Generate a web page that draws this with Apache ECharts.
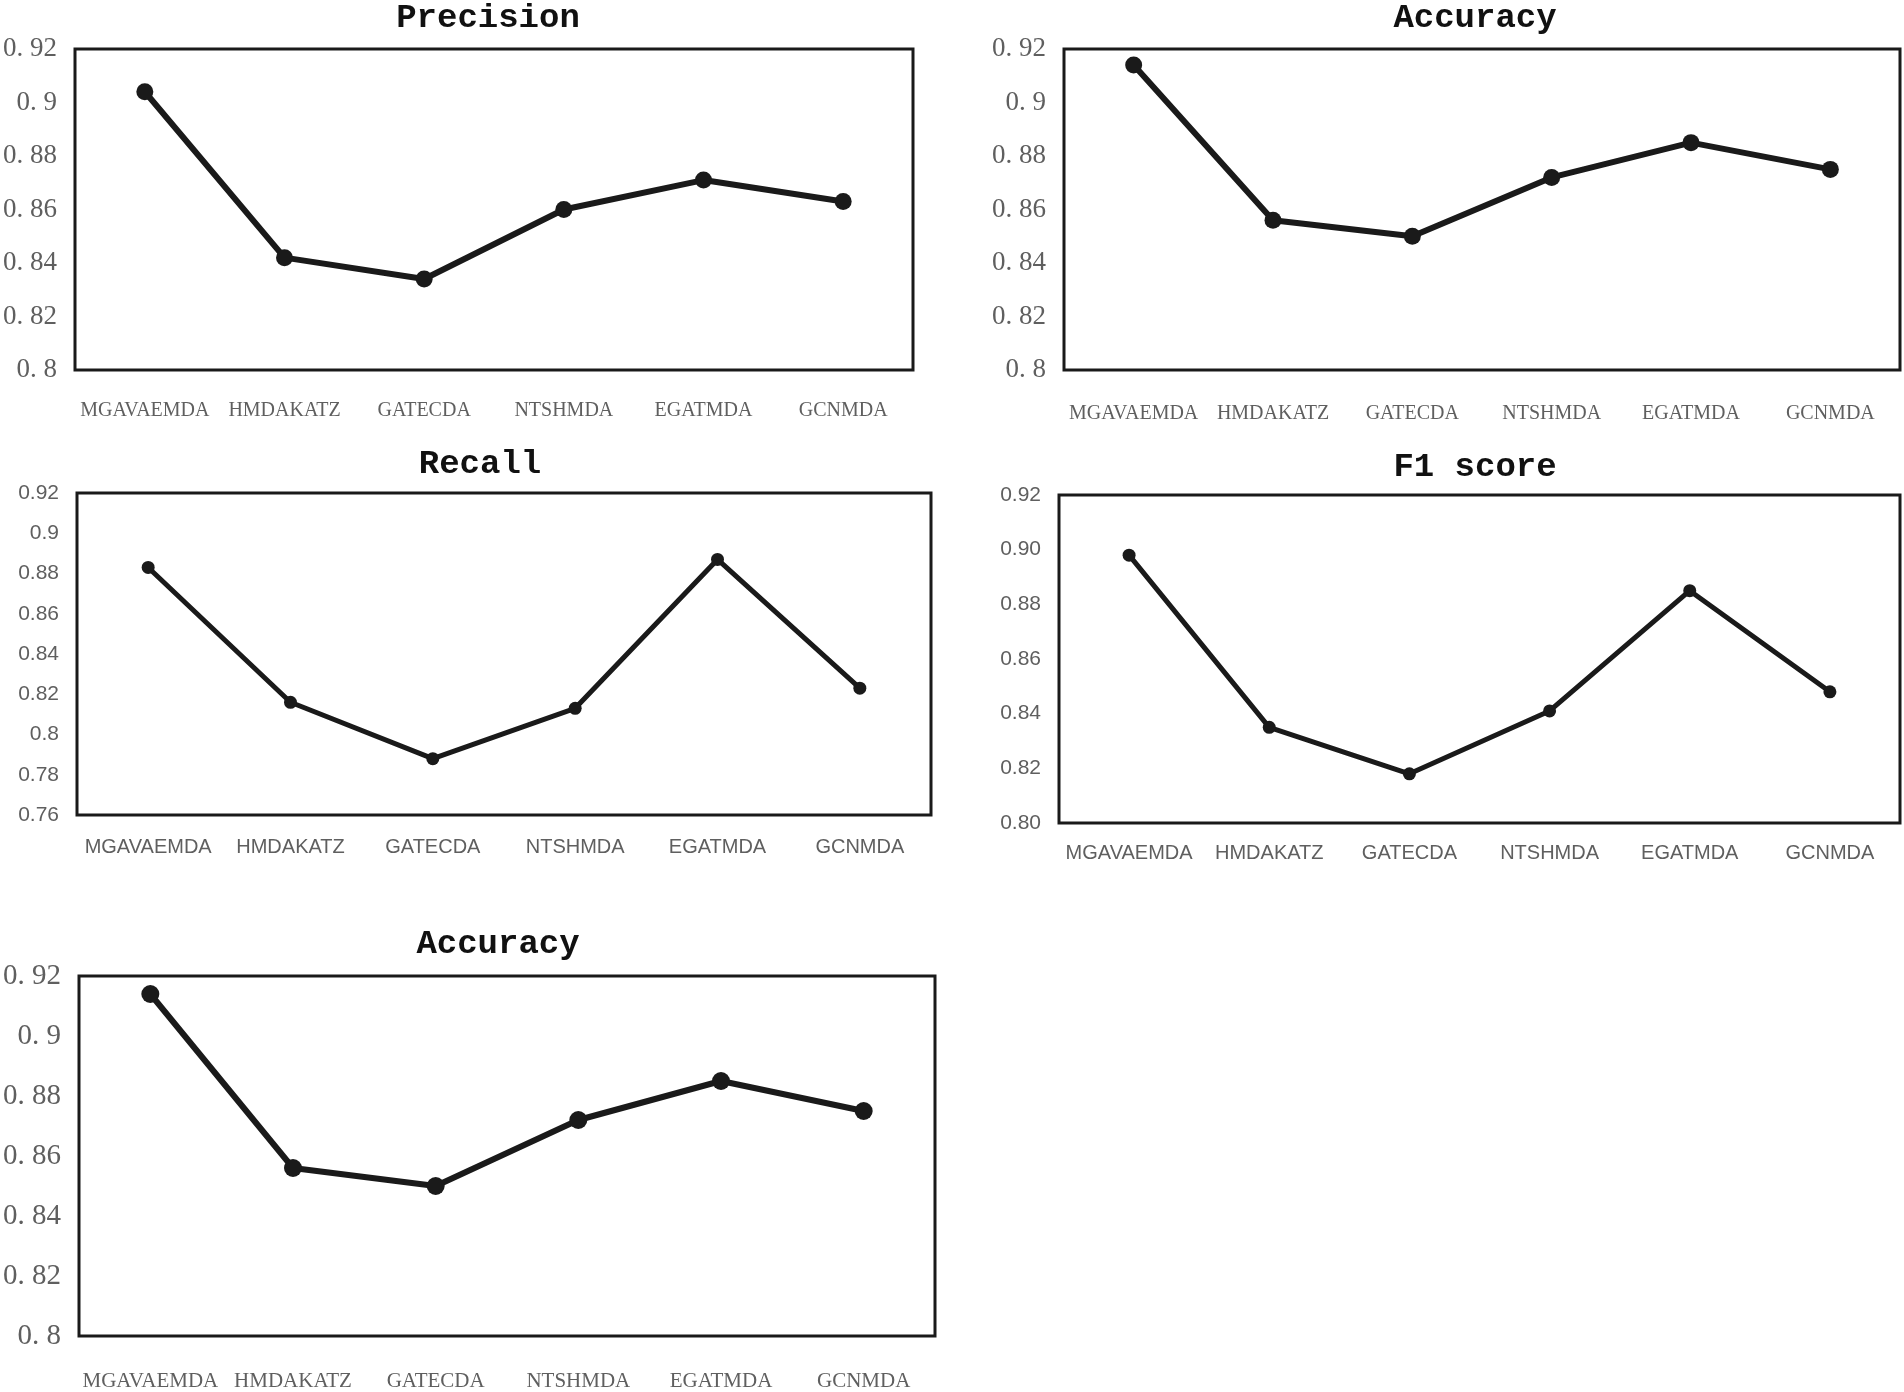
<!DOCTYPE html>
<html>
<head>
<meta charset="utf-8">
<title>Precision / Accuracy / Recall / F1 score</title>
<script src="https://cdn.jsdelivr.net/npm/echarts@6/dist/echarts.min.js"></script>
<style>
html, body { margin: 0; padding: 0; background: #fff; }
#main { width: 1904px; height: 1392px; }
</style>
</head>
<body>
<div id="main"></div>
<script>
// 数据
var methods = ['MGAVAEMDA', 'HMDAKATZ', 'GATECDA', 'NTSHMDA', 'EGATMDA', 'GCNMDA'];
var precision = [0.904, 0.842, 0.834, 0.860, 0.871, 0.863];
var accuracy = [0.914, 0.856, 0.850, 0.872, 0.885, 0.875];
var recall = [0.883, 0.816, 0.788, 0.813, 0.887, 0.823];
var f1Score = [0.898, 0.835, 0.818, 0.841, 0.885, 0.848];

// 纵轴刻度
var yTicksMain = [0.8, 0.82, 0.84, 0.86, 0.88, 0.9, 0.92];
var yTicksRecall = [0.76, 0.78, 0.8, 0.82, 0.84, 0.86, 0.88, 0.9, 0.92];

var serif = "'Liberation Serif', 'DejaVu Serif', serif";
var sans = "'Liberation Sans', 'Noto Sans', sans-serif";
var titleFont = "'Liberation Mono', 'DejaVu Sans Mono', monospace";

function serifLabel(v) { return String(+v.toFixed(2)).replace('.', '. '); }
function plainLabel(v) { return String(+v.toFixed(2)); }
function fixedLabel(v) { return v.toFixed(2); }

var panels = [
  { name: 'Precision', data: precision, ticks: yTicksMain, fmt: serifLabel, font: serif, ySize: 27, xSize: 20, xMargin: 31,
    grid: { left: 75, top: 49, width: 838, height: 321 }, title: [488, 18], lw: 6, sym: 17 },
  { name: 'Accuracy', data: accuracy, ticks: yTicksMain, fmt: serifLabel, font: serif, ySize: 27, xSize: 20, xMargin: 34,
    grid: { left: 1064, top: 49, width: 836, height: 321 }, title: [1475, 18], lw: 6, sym: 17 },
  { name: 'Recall', data: recall, ticks: yTicksRecall, fmt: plainLabel, font: sans, ySize: 21, xSize: 20, xMargin: 22,
    grid: { left: 77, top: 493, width: 854, height: 322 }, title: [480, 464], lw: 5, sym: 13 },
  { name: 'F1 score', data: f1Score, ticks: yTicksMain, fmt: fixedLabel, font: sans, ySize: 21, xSize: 20, xMargin: 20,
    grid: { left: 1059, top: 495, width: 841, height: 328 }, title: [1475, 467], lw: 5, sym: 13 },
  { name: 'Accuracy', data: accuracy, ticks: yTicksMain, fmt: serifLabel, font: serif, ySize: 29, xSize: 21, xMargin: 35,
    grid: { left: 78, top: 976, width: 857, height: 360 }, title: [498, 944], lw: 6, sym: 18 }
];

var grids = [], xAxes = [], yAxes = [], series = [], texts = [];
for (var i = 0; i < panels.length; i++) {
  var p = panels[i];
  grids.push({
    left: p.grid.left, top: p.grid.top, width: p.grid.width, height: p.grid.height,
    show: true, borderColor: '#1a1a1a', borderWidth: 3, backgroundColor: 'transparent'
  });
  xAxes.push({
    type: 'category', gridIndex: i, data: methods, boundaryGap: true,
    axisLine: { show: false }, axisTick: { show: false }, splitLine: { show: false },
    axisLabel: { color: '#5f5f5f', fontFamily: p.font, fontSize: p.xSize, margin: p.xMargin, interval: 0 }
  });
  yAxes.push({
    type: 'value', gridIndex: i,
    min: p.ticks[0], max: p.ticks[p.ticks.length - 1], interval: 0.02,
    axisLine: { show: false }, axisTick: { show: false }, splitLine: { show: false },
    axisLabel: { color: '#5f5f5f', fontFamily: p.font, fontSize: p.ySize, margin: 18, formatter: p.fmt }
  });
  series.push({
    name: p.name, type: 'line', xAxisIndex: i, yAxisIndex: i, data: p.data,
    symbol: 'circle', symbolSize: p.sym,
    lineStyle: { color: '#1a1a1a', width: p.lw },
    itemStyle: { color: '#1a1a1a' },
    emphasis: { disabled: true }
  });
  texts.push({
    type: 'text', x: p.title[0], y: p.title[1],
    style: {
      text: p.name, fill: '#111', font: 'bold 34px ' + titleFont,
      align: 'center', verticalAlign: 'middle', textAlign: 'center', textVerticalAlign: 'middle'
    }
  });
}

var myChart = echarts.init(document.getElementById('main'));
myChart.setOption({
  animation: false,
  backgroundColor: '#fff',
  grid: grids,
  xAxis: xAxes,
  yAxis: yAxes,
  series: series,
  graphic: texts
});
</script>
</body>
</html>
